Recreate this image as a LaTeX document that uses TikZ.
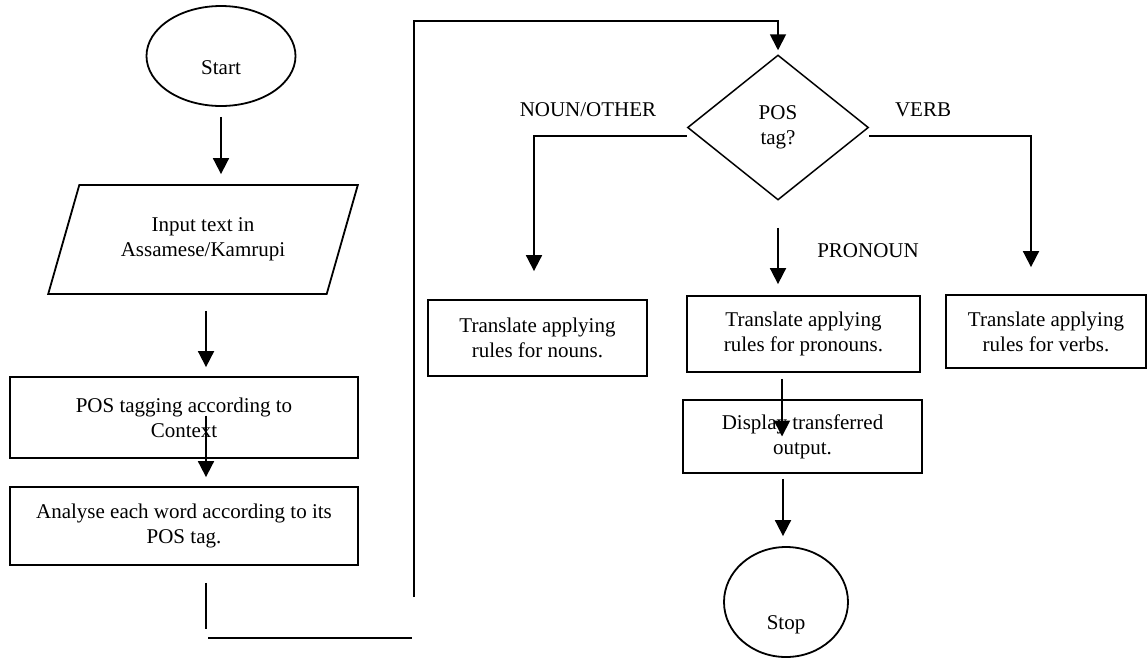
\documentclass[tikz,border=0pt]{standalone}
\usepackage{fontspec}
\setmainfont{Liberation Serif}
\usetikzlibrary{shapes.geometric,arrows.meta}

\begin{document}
\begin{tikzpicture}[x=1pt, y=-1pt, line width=1.8pt,
        font=\fontsize{21}{25}\selectfont,
        terminal/.style={draw, ellipse, inner sep=0pt},
        iobox/.style={draw, trapezium, trapezium left angle=64.5,
            trapezium right angle=115.5, trapezium stretches=true,
            align=center, inner sep=0pt},
        process/.style={draw, rectangle, align=center, inner sep=0pt},
        decision/.style={draw, diamond, align=center, inner sep=0pt, line width=1.5pt},
        flow/.style={-{Triangle[width=16pt,length=16pt]}}]
        \useasboundingbox (0,0) rectangle (1148,659);

        % left column
        \node[terminal, minimum width=149, minimum height=100,
            label={[yshift=-12pt]center:Start}] (start) at (221,56) {};
        \node[iobox, minimum width=310, minimum height=109] (input) at (203,239.5)
            {Input text in\\Assamese/Kamrupi};
        \node[process, minimum width=348, minimum height=81] (tag) at (184,417.5)
            {POS tagging according to\\Context};
        \node[process, minimum width=348, minimum height=78] (analyse) at (184,526)
            {Analyse each word according to its\\POS tag.};

        % decision and branches
        \node[decision, minimum width=181, minimum height=145] (pos) at (778,127.5)
            {POS\\tag?};
        \node[process, minimum width=219, minimum height=76] (noun) at (537.5,338)
            {Translate applying\\rules for nouns.};
        \node[process, minimum width=233, minimum height=76] (pronoun) at (803.5,334)
            {Translate applying\\rules for pronouns.};
        \node[process, minimum width=200, minimum height=73] (verb) at (1046,331.5)
            {Translate applying\\rules for verbs.};
        \node[process, minimum width=239, minimum height=73] (display) at (802.5,436.5)
            {Display transferred\\output.};
        \node[terminal, minimum width=124, minimum height=110,
            label={[yshift=-23pt]center:Stop}] (stop) at (786,602) {};

        % branch labels
        \node (nounlbl) at (588,110) {NOUN/OTHER};
        \node (verblbl) at (923,110) {VERB};
        \node (pronounlbl) at (868,251) {PRONOUN};

        % edges down the left column
        \draw[flow, shorten <=10pt, shorten >=10pt] (start.south) -- (start.south |- input.north);
        \draw[flow, shorten <=16pt, shorten >=9pt] ([xshift=3pt]input.south)
            -- ([xshift=3pt]input.south |- tag.north);
        \draw[flow, shorten <=-2pt, shorten >=9pt] ([xshift=22pt]tag.center)
            -- ([xshift=22pt]tag.center |- analyse.north);

        % loop back to the decision
        \coordinate (loopA) at (206,638);
        \coordinate (loopB) at (414,638);
        \coordinate (loopC) at (414,21);
        \draw[shorten <=17pt, shorten >=9pt] ([xshift=22pt]analyse.south) -- (loopA);
        \draw[shorten <=2pt, shorten >=2pt] (loopA) -- (loopB);
        \draw[flow, shorten >=4pt] ([yshift=41pt]loopB) -- (loopC) -| (pos.north);

        % edges out of the decision
        \draw[flow, shorten >=28pt] ([yshift=-8.5pt]pos.west) -| ([xshift=-3.5pt]noun.north);
        \draw[flow, shorten >=27pt] ([yshift=-8.5pt]pos.east) -| ([xshift=-15pt]verb.north);
        \draw[flow, shorten <=27pt, shorten >=11pt] (pos.south) -- (pos.south |- pronoun.north);

        % pronoun path to the end
        \draw[flow, shorten <=6pt] ([xshift=-21.5pt]pronoun.south)
            -- ([xshift=-21.5pt]pronoun.south |- display.center);
        \draw[flow, shorten <=5pt, shorten >=10pt] ([xshift=-19.5pt]display.south)
            -- ([xshift=-19.5pt]display.south |- stop.north);
    \end{tikzpicture}
\end{document}
